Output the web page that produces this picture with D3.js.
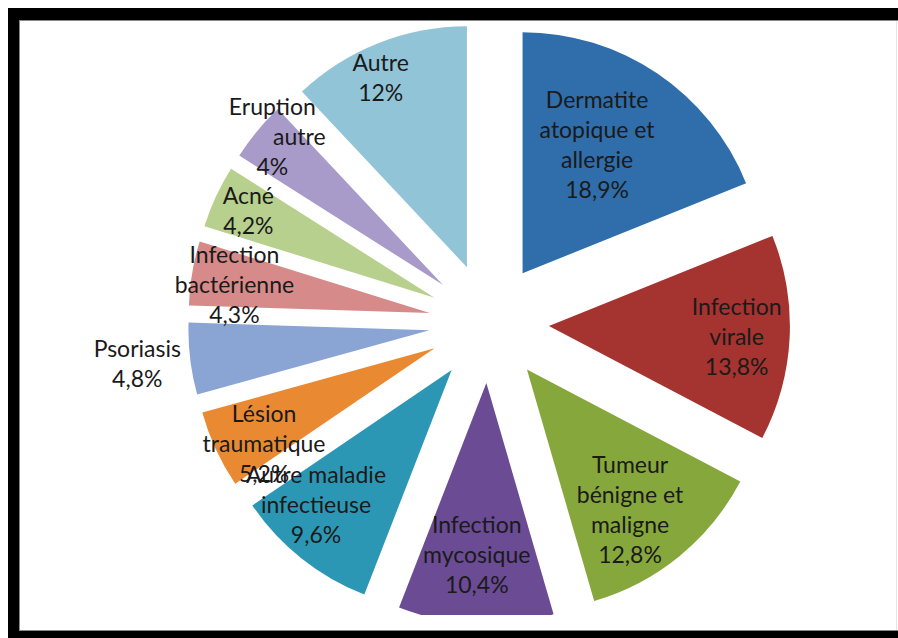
<!DOCTYPE html>
<html>
<head>
<meta charset="utf-8">
<script src="https://cdn.jsdelivr.net/npm/d3@7"></script>
<style>
  html, body { margin: 0; padding: 0; background: #fff; }
  svg { display: block; }
</style>
</head>
<body>
<svg id="chart" width="898" height="638"></svg>
<script>
// ---- data ----
const categories = [
  "Dermatite atopique et allergie", "Infection virale", "Tumeur bénigne et maligne",
  "Infection mycosique", "Autre maladie infectieuse", "Lésion traumatique",
  "Psoriasis", "Infection bactérienne", "Acné", "Eruption autre", "Autre"
];
const values = [18.9, 13.8, 12.8, 10.4, 9.6, 5.2, 4.8, 4.3, 4.2, 4, 12];
const labelLines = [
  ["Dermatite", "atopique et", "allergie"],
  ["Infection", "virale"],
  ["Tumeur", "bénigne et", "maligne"],
  ["Infection", "mycosique"],
  ["Autre maladie", "infectieuse"],
  ["Lésion", "traumatique"],
  ["Psoriasis"],
  ["Infection", "bactérienne"],
  ["Acné"],
  ["Eruption", "autre"],
  ["Autre"]
];
const colors = [
  "#2f6dab", "#a5332f", "#86a73b", "#6a4b94", "#2c97b4", "#e98a33",
  "#8aa4d3", "#d68b8a", "#b8d08d", "#a99bc9", "#92c4d8"
];

// ---- layout config (label placement, relative to each slice) ----
const labelRadiusFrac = [0.62, 0.78, 0.72, 0.71, 0.79, 0.81, 1.22, 0.82, 0.855, 0.94, 0.866];
const labelAngleShift = [-4.1, 0.1, 2.8, 0.7, 6.9, -4.3, 0.4, -1.0, 0.5, 1.6, -2.8];
const lineShiftX = { "9-1": 27 };

const W = 898, H = 638;
const svg = d3.select("#chart");

// frame
svg.append("rect").attr("x", 8).attr("y", 8).attr("width", W).attr("height", H).attr("fill", "#000");
svg.append("rect").attr("x", 19.5).attr("y", 20.5).attr("width", W).attr("height", 610)
  .attr("fill", "#fff").attr("stroke", "#888").attr("stroke-width", 1);
svg.append("line").attr("x1", 896.5).attr("x2", 896.5).attr("y1", 21).attr("y2", 630)
  .attr("stroke", "#e4e4e4").attr("stroke-width", 1);

const defs = svg.append("defs");
defs.append("clipPath").attr("id", "plotClip")
  .append("rect").attr("x", 19).attr("y", 20).attr("width", W - 19).attr("height", 595);

const cx = 489, cy = 323, R = 241, explode = 60;
const lineH = 30;

const pie = d3.pie().sort(null).value(d => d).startAngle(0).endAngle(2 * Math.PI);
const arcs = pie(values);
const arc = d3.arc().innerRadius(0).outerRadius(R);

const g = svg.append("g").attr("clip-path", "url(#plotClip)");
const inner = g.append("g").attr("transform", `translate(${cx},${cy})`);

function apex(d) {
  const a = (d.startAngle + d.endAngle) / 2;
  return [Math.sin(a) * explode, -Math.cos(a) * explode];
}

inner.selectAll("path.slice")
  .data(arcs)
  .join("path")
  .attr("class", "slice")
  .attr("transform", d => { const p = apex(d); return `translate(${p[0]},${p[1]})`; })
  .attr("d", arc)
  .attr("fill", (d, i) => colors[i]);

const fmt = v => String(v).replace(".", ",") + "%";

const labels = svg.append("g").attr("transform", `translate(${cx},${cy})`)
  .attr("font-family", "Lato, 'Open Sans', sans-serif")
  .attr("font-size", 23)
  .attr("fill", "#1a1a1a")
  .attr("text-anchor", "middle");

arcs.forEach((d, i) => {
  const p = apex(d);
  const a = (d.startAngle + d.endAngle) / 2 + labelAngleShift[i] * Math.PI / 180;
  const r = R * labelRadiusFrac[i];
  const x = p[0] + Math.sin(a) * r;
  const y = p[1] - Math.cos(a) * r;
  const lines = labelLines[i].concat([fmt(values[i])]);
  const y0 = y - (lines.length - 1) * lineH / 2;
  const t = labels.append("text").attr("x", x).attr("y", y0);
  lines.forEach((ln, j) => {
    t.append("tspan")
      .attr("x", x + (lineShiftX[`${i}-${j}`] || 0))
      .attr("y", y0 + j * lineH)
      .attr("dominant-baseline", "central")
      .text(ln);
  });
});
</script>
</body>
</html>
